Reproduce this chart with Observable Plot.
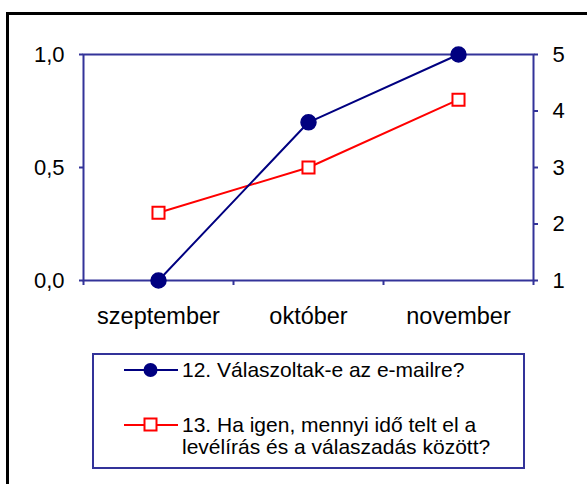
<!DOCTYPE html>
<html>
<head>
<meta charset="utf-8">
<script src="https://cdn.jsdelivr.net/npm/d3@7"></script>
<script src="https://cdn.jsdelivr.net/npm/@observablehq/plot@0.6"></script>
<style>
  html, body { margin: 0; padding: 0; background: #fff; overflow: hidden; width: 587px; height: 484px; }
  body { position: relative; font-family: "Liberation Sans", Arial, sans-serif; }
  #border { position: absolute; left: 6px; top: 12px; width: 700px; height: 600px; border: 3px solid #000; box-sizing: border-box; }
  #chart { position: absolute; left: 0; top: 0; }
  #legend { position: absolute; left: 92px; top: 353px; width: 433px; height: 116px; border: 2px solid #333399; box-sizing: border-box; background: #fff; }
  .item { position: absolute; left: 0; font-size: 21px; line-height: 22px; color: #000; }
  .item svg { position: absolute; left: 30px; }
  .item .txt { position: absolute; left: 88px; white-space: nowrap; }
</style>
</head>
<body>
<div id="border"></div>
<div id="chart"></div>
<div id="legend"></div>
<script>
const months = ["szeptember", "október", "november"];
const q12 = [0, 0.7, 1.0];          // left axis
const q13 = [2.2, 3.0, 4.2];        // right axis
const leftTicks = [0, 0.5, 1.0];
const rightTicks = [1, 2, 3, 4, 5];
const seriesNames = ["12. Válaszoltak-e az e-mailre?", "13. Ha igen, mennyi idő telt el a\nlevélírás és a válaszadás között?"];

const axisColor = "#333399";
const blue = "#000080";
const red = "#ff0000";
const rMin = 1, rMax = 5;
const toLeft = v => (v - rMin) / (rMax - rMin);

const d12 = months.map((m, i) => ({x: i + 0.5, y: q12[i]}));
const d13 = months.map((m, i) => ({x: i + 0.5, y: toLeft(q13[i])}));

const chart = Plot.plot({
  width: 587,
  height: 340,
  marginLeft: 83,
  marginRight: 54,
  marginTop: 54,
  marginBottom: 60,
  style: {fontFamily: "'Liberation Sans', Arial, sans-serif", background: "transparent"},
  x: {domain: [0, months.length], axis: null},
  y: {domain: [0, 1], axis: null},
  marks: [
    Plot.frame({stroke: axisColor, strokeWidth: 2}),
    Plot.axisY(leftTicks, {anchor: "left", label: null, tickSize: 4, tickPadding: 15, stroke: axisColor, strokeWidth: 2, fill: "#000", fontSize: 22,
      tickFormat: d => d.toFixed(1).replace(".", ",")}),
    Plot.axisY(rightTicks.map(toLeft), {anchor: "right", label: null, tickSize: 4, tickPadding: 15, stroke: axisColor, strokeWidth: 2, fill: "#000", fontSize: 22,
      tickFormat: d => String(Math.round(rMin + d * (rMax - rMin)))}),
    Plot.axisX(d3.range(months.length + 1), {anchor: "bottom", label: null, tickSize: 5, stroke: axisColor, strokeWidth: 2, tickFormat: () => ""}),
    Plot.axisX(months.map((m, i) => i + 0.5), {anchor: "bottom", label: null, tickSize: 0, tickPadding: 27, fill: "#000", fontSize: 23.5,
      tickFormat: d => months[Math.floor(d)]}),
    Plot.line(d13, {x: "x", y: "y", stroke: red, strokeWidth: 2}),
    Plot.line(d12, {x: "x", y: "y", stroke: blue, strokeWidth: 2}),
    Plot.dot(d13, {x: "x", y: "y", symbol: "square", r: 6.8, fill: "#fff", stroke: red, strokeWidth: 2}),
    Plot.dot(d12, {x: "x", y: "y", r: 7.5, fill: blue, stroke: blue})
  ]
});
document.getElementById("chart").appendChild(chart);

// legend
const legend = document.getElementById("legend");
const items = [
  {name: seriesNames[0], color: blue, symbol: "circle", top: 4},
  {name: seriesNames[1], color: red, symbol: "square", top: 59}
];
items.forEach(it => {
  const div = document.createElement("div");
  div.className = "item";
  div.style.top = it.top + "px";
  const sw = it.symbol === "circle"
    ? `<circle cx="26.5" cy="11" r="7" fill="${it.color}"/>`
    : `<rect x="20.5" y="4.5" width="12" height="12" fill="#fff" stroke="${it.color}" stroke-width="2"/>`;
  div.innerHTML = `<svg width="54" height="22" style="top:0"><line x1="0" x2="54" y1="11" y2="11" stroke="${it.color}" stroke-width="2"/>${sw}</svg>` +
    `<div class="txt">${it.name.split("\n").join("<br>")}</div>`;
  legend.appendChild(div);
});
</script>
</body>
</html>
